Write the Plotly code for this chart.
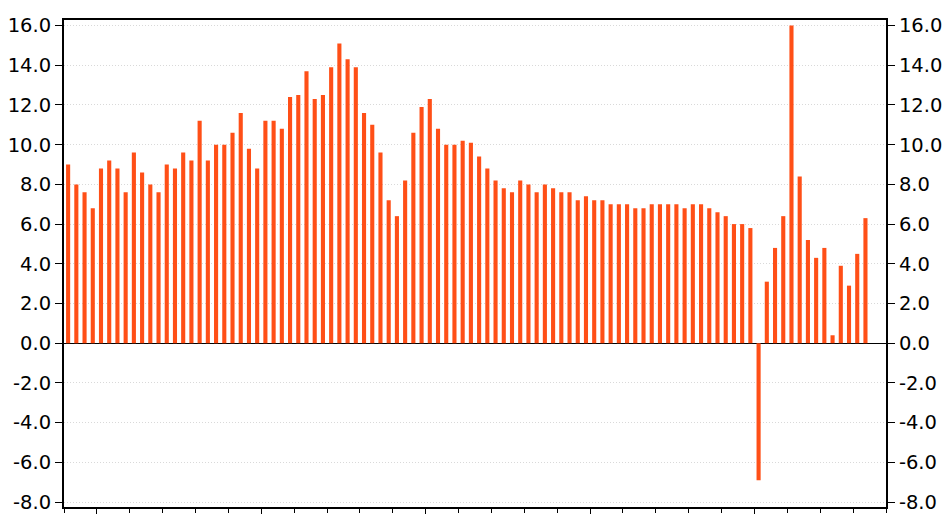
import plotly.graph_objects as go

# Quarterly series, 1999Q1 .. 2023Q2
quarter_index = list(range(98))
growth = [
    9.0, 8.0, 7.6, 6.8,
    8.8, 9.2, 8.8, 7.6,
    9.6, 8.6, 8.0, 7.6,
    9.0, 8.8, 9.6, 9.2,
    11.2, 9.2, 10.0, 10.0,
    10.6, 11.6, 9.8, 8.8,
    11.2, 11.2, 10.8, 12.4,
    12.5, 13.7, 12.3, 12.5,
    13.9, 15.1, 14.3, 13.9,
    11.6, 11.0, 9.6, 7.2,
    6.4, 8.2, 10.6, 11.9,
    12.3, 10.8, 10.0, 10.0,
    10.2, 10.1, 9.4, 8.8,
    8.2, 7.8, 7.6, 8.2,
    8.0, 7.6, 8.0, 7.8,
    7.6, 7.6, 7.2, 7.4,
    7.2, 7.2, 7.0, 7.0,
    7.0, 6.8, 6.8, 7.0,
    7.0, 7.0, 7.0, 6.8,
    7.0, 7.0, 6.8, 6.6,
    6.4, 6.0, 6.0, 5.8,
    -6.9, 3.1, 4.8, 6.4,
    16.0, 8.4, 5.2, 4.3,
    4.8, 0.4, 3.9, 2.9,
    4.5, 6.3,
]
y_ticks = [-8, -6, -4, -2, 0, 2, 4, 6, 8, 10, 12, 14, 16]
y_tick_text = ["%.1f" % v for v in y_ticks]

BAR = "#FF4F17"
FONT = dict(family="DejaVu Sans", size=19.5, color="#000000")

fig = go.Figure()
fig.add_trace(go.Bar(x=quarter_index, y=growth, width=0.5,
                     marker=dict(color=BAR, line=dict(width=0)),
                     showlegend=False, hoverinfo="skip"))
fig.add_trace(go.Bar(x=quarter_index, y=growth, width=0.5, yaxis="y2",
                     marker=dict(color="rgba(0,0,0,0)", line=dict(width=0)),
                     showlegend=False, hoverinfo="skip"))

yr = [-8.25, 16.28]
fig.update_layout(
    width=945, height=514,
    margin=dict(l=64, r=59, t=20, b=7),
    paper_bgcolor="white", plot_bgcolor="white",
    barmode="overlay",
    font=FONT,
    xaxis=dict(range=[-0.5, 99.5], showline=True, linecolor="black", linewidth=2,
               mirror=True, showgrid=False, zeroline=False, automargin=False,
               ticks="outside", tick0=3.5, dtick=20, ticklen=8, tickwidth=1,
               tickcolor="black", showticklabels=False,
               minor=dict(ticks="outside", tick0=3.5, dtick=4, ticklen=4,
                          tickwidth=1, tickcolor="black", showgrid=False)),
    yaxis=dict(range=yr, tickvals=y_ticks, ticktext=y_tick_text, automargin=False,
               showline=True, linecolor="black", linewidth=2,
               ticks="outside", ticklen=7, tickwidth=1, tickcolor="black",
               showgrid=True, gridcolor="#d9d9d9", gridwidth=1, griddash="1px,2px",
               zeroline=True, zerolinecolor="black", zerolinewidth=1,
               tickfont=FONT),
    yaxis2=dict(range=yr, tickvals=y_ticks, ticktext=y_tick_text, automargin=False,
                overlaying="y", side="right",
                showline=True, linecolor="black", linewidth=2,
                ticks="outside", ticklen=7, tickwidth=1, tickcolor="black",
                showgrid=False, zeroline=False, tickfont=FONT),
)

fig.write_html("out.html", config={"displayModeBar": False, "staticPlot": True},
               post_script="document.body.style.margin='0';document.body.style.overflow='hidden';")
